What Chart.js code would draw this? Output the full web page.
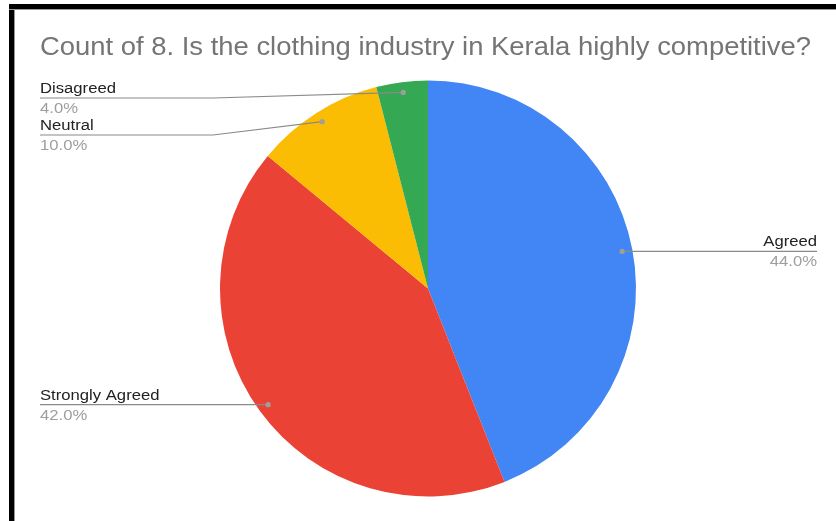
<!DOCTYPE html>
<html>
<head>
<meta charset="utf-8">
<script src="https://cdn.jsdelivr.net/npm/chart.js@4.4.1/dist/chart.umd.min.js"></script>
<style>
    html, body { margin: 0; padding: 0; background: #fff; }
    #wrap { position: relative; width: 836px; height: 521px; overflow: hidden; }
    #pieChart { position: absolute; left: 0; top: 0; }
    .frame-left { position: absolute; left: 9px; top: 4px; width: 5px; height: 517px; background: #000; border-right: 1px solid #999; }
    .frame-top { position: absolute; left: 9px; top: 4px; width: 827px; height: 5px; background: #000; border-bottom: 1px solid #999; }
</style>
</head>
<body>
<div id="wrap">
    <canvas id="pieChart" width="836" height="521"></canvas>
    <div class="frame-left"></div>
    <div class="frame-top"></div>
</div>
<script>
const chartTitle = "Count of 8. Is the clothing industry in Kerala highly competitive?";
const answers = ["Agreed", "Strongly Agreed", "Neutral", "Disagreed"];
const counts = [22, 21, 5, 2];
const sliceColors = ["#4285F4", "#EA4335", "#FBBC04", "#34A853"];

const FONT = "Arial, 'Liberation Sans', sans-serif";
const TEXT_STRETCH = 1.075; // text is a little wider than plain Arial

function drawText(ctx, text, x, y) {
    ctx.save();
    ctx.translate(x, y);
    ctx.scale(TEXT_STRETCH, 1);
    ctx.fillText(text, 0, 0);
    ctx.restore();
}

// title + leader-line labels, drawn after the pie
const calloutPlugin = {
    id: "callouts",
    afterDraw(chart) {
        const ctx = chart.ctx;
        const meta = chart.getDatasetMeta(0);
        const total = counts.reduce((a, b) => a + b, 0);

        ctx.save();
        ctx.fillStyle = "#757575";
        ctx.font = "25.5px " + FONT;
        ctx.textBaseline = "alphabetic";
        ctx.textAlign = "left";
        drawText(ctx, chartTitle, 40, 55);

        const leftX = 40, rightX = 817, bendX = 213;
        let prevLeftY = 98 - 37;

        // order left-side labels top to bottom so they can be stacked
        const items = meta.data.map((arc, i) => {
            const p = arc.getProps(["x", "y", "startAngle", "endAngle", "outerRadius"], true);
            const mid = (p.startAngle + p.endAngle) / 2;
            const r = p.outerRadius * 0.95;
            return { i, x: p.x + Math.cos(mid) * r, y: p.y + Math.sin(mid) * r, right: Math.cos(mid) > 0 };
        });
        items.sort((a, b) => a.y - b.y);

        items.forEach(it => {
            const pct = (counts[it.i] / total * 100).toFixed(1) + "%";
            let lineY = it.y;
            ctx.strokeStyle = "#8a8a8a";
            ctx.lineWidth = 1.2;
            ctx.beginPath();
            if (it.right) {
                ctx.moveTo(it.x, lineY);
                ctx.lineTo(rightX, lineY);
            } else {
                lineY = Math.max(it.y, prevLeftY + 37);
                prevLeftY = lineY;
                ctx.moveTo(leftX, lineY);
                ctx.lineTo(bendX, lineY);
                ctx.lineTo(it.x, it.y);
            }
            ctx.stroke();

            ctx.fillStyle = "#9e9e9e";
            ctx.beginPath();
            ctx.arc(it.x, it.y, 2.6, 0, Math.PI * 2);
            ctx.fill();

            ctx.font = "15.5px " + FONT;
            ctx.textAlign = it.right ? "right" : "left";
            const tx = it.right ? rightX : leftX;
            ctx.fillStyle = "#222222";
            drawText(ctx, answers[it.i], tx, lineY - 5);
            ctx.fillStyle = "#9e9e9e";
            drawText(ctx, pct, tx, lineY + 15);
        });
        ctx.restore();
    }
};

new Chart(document.getElementById("pieChart"), {
    type: "pie",
    data: {
        labels: answers,
        datasets: [{
            data: counts,
            backgroundColor: sliceColors,
            borderWidth: 0
        }]
    },
    options: {
        responsive: false,
        animation: false,
        layout: { padding: { left: 220, right: 200, top: 80, bottom: 24 } },
        plugins: {
            legend: { display: false },
            tooltip: { enabled: false }
        }
    },
    plugins: [calloutPlugin]
});
</script>
</body>
</html>
